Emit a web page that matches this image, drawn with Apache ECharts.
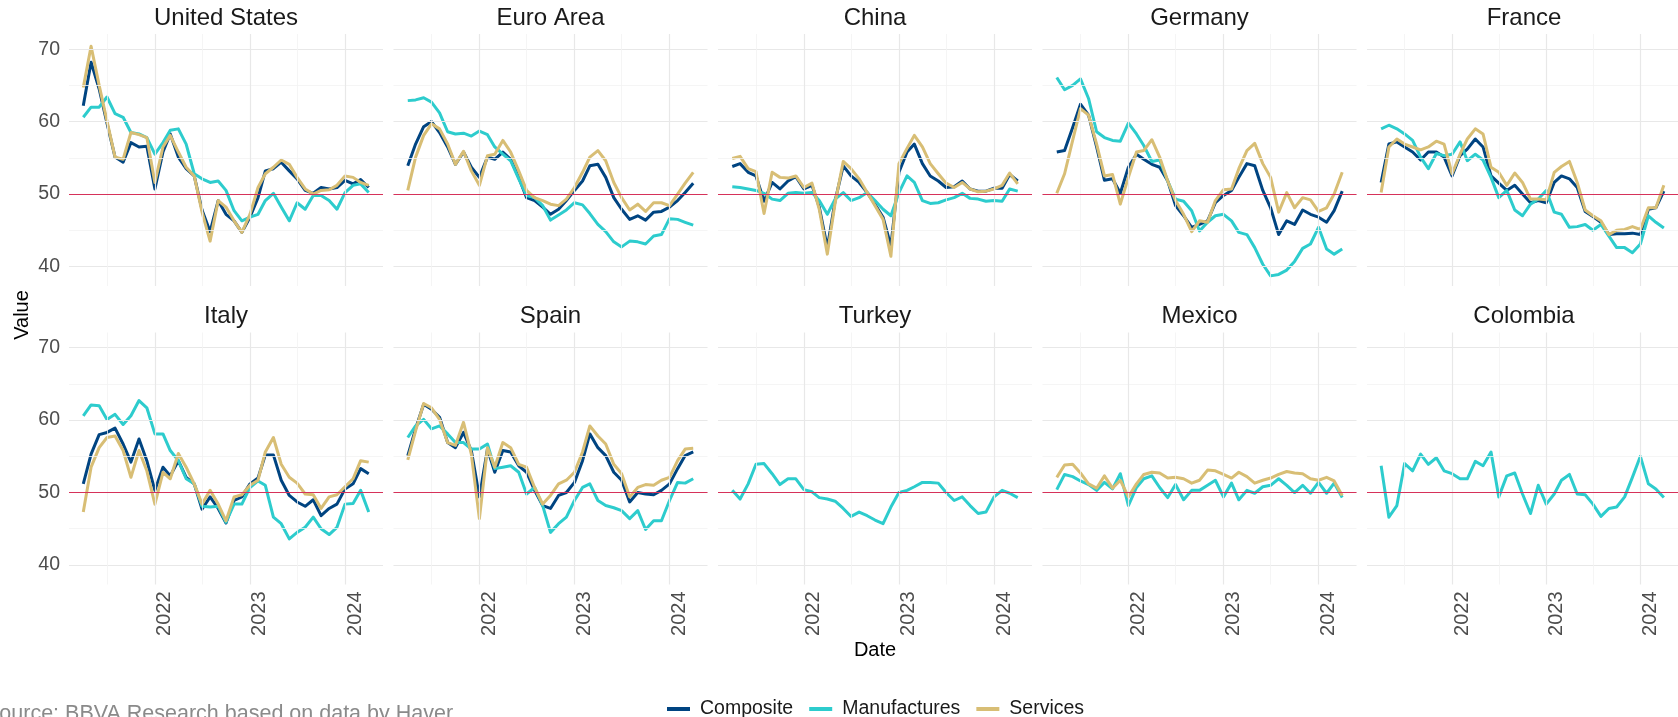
<!DOCTYPE html>
<html>
<head>
<meta charset="utf-8">
<script src="https://cdn.jsdelivr.net/npm/echarts@6/dist/echarts.min.js"></script>
<style>
  html, body { margin: 0; padding: 0; background: #fff; }
  #chart { width: 1678px; height: 717px; }
</style>
</head>
<body>
<div id="chart"></div>
<script>
// monthly observations
const months = [
  '2021-04', '2021-05', '2021-06', '2021-07', '2021-08', '2021-09', '2021-10', '2021-11', '2021-12',
  '2022-01', '2022-02', '2022-03', '2022-04', '2022-05', '2022-06', '2022-07', '2022-08', '2022-09',
  '2022-10', '2022-11', '2022-12', '2023-01', '2023-02', '2023-03', '2023-04', '2023-05', '2023-06',
  '2023-07', '2023-08', '2023-09', '2023-10', '2023-11', '2023-12', '2024-01', '2024-02', '2024-03',
  '2024-04'
]

const countries = ['United States', 'Euro Area', 'China', 'Germany', 'France',
  'Italy', 'Spain', 'Turkey', 'Mexico', 'Colombia']
const seriesNames = ['Composite', 'Manufactures', 'Services']
const seriesColors = ['#004481', '#2DCCCD', '#D8BE75']

const usComposite = [62.2, 68.2, 64.5, 59.8, 55.1, 54.4, 57.1, 56.5, 56.6, 50.7, 55.8, 58.3, 55.1, 53.5, 52.5, 47.8, 44.8, 49.1, 47.2, 46.3, 44.7, 46.8, 49.5, 53.2, 53.5, 54.4, 53.2, 52.1, 50.5, 50.1, 50.9, 50.7, 50.9, 51.9, 51.4, 52.0, 50.9]
const usManuf = [60.6, 62.0, 62.0, 63.4, 61.1, 60.6, 58.5, 58.3, 57.8, 55.5, 57.1, 58.8, 59.0, 56.9, 52.8, 52.1, 51.6, 51.8, 50.5, 47.7, 46.3, 46.8, 47.2, 49.1, 50.1, 48.2, 46.3, 48.8, 47.9, 49.8, 49.8, 49.1, 47.9, 50.2, 51.2, 51.4, 50.2]
const usServices = [64.7, 70.4, 65.0, 60.1, 55.1, 54.8, 58.5, 58.2, 57.8, 51.6, 56.5, 58.1, 55.8, 53.7, 52.5, 47.5, 43.5, 49.1, 48.2, 46.3, 44.7, 47.2, 50.9, 52.8, 53.7, 54.7, 54.1, 52.3, 50.7, 50.0, 50.5, 50.6, 51.2, 52.5, 52.3, 51.6, 51.2]

const euComposite = [53.9, 56.9, 59.3, 60.0, 58.5, 56.5, 54.1, 55.8, 53.7, 52.3, 55.1, 54.8, 55.8, 54.8, 52.3, 49.5, 49.1, 48.2, 47.2, 47.9, 49.1, 50.5, 51.8, 53.9, 54.1, 52.3, 49.5, 47.9, 46.5, 47.0, 46.4, 47.5, 47.6, 48.2, 49.1, 50.2, 51.5]
const euManuf = [62.9, 63.0, 63.3, 62.7, 61.2, 58.6, 58.3, 58.4, 58.0, 58.7, 58.2, 56.5, 55.5, 54.6, 52.1, 49.8, 49.5, 48.4, 46.4, 47.1, 47.8, 48.8, 48.5, 47.3, 45.8, 44.8, 43.4, 42.7, 43.5, 43.4, 43.1, 44.2, 44.4, 46.6, 46.5, 46.1, 45.7]
const euServices = [50.5, 55.1, 58.1, 59.7, 59.0, 56.9, 54.1, 55.9, 53.2, 51.2, 55.3, 55.5, 57.4, 55.8, 53.2, 50.5, 49.5, 49.1, 48.6, 48.4, 49.3, 50.9, 53.0, 55.1, 56.0, 54.6, 51.6, 49.5, 47.8, 48.6, 47.6, 48.8, 48.8, 48.4, 50.0, 51.5, 53.0]

const cnComposite = [53.8, 54.2, 53.0, 52.5, 49.0, 51.6, 50.7, 51.8, 52.4, 50.7, 51.2, 48.2, 42.6, 49.1, 53.9, 52.5, 51.6, 50.2, 48.6, 46.8, 42.8, 53.0, 55.8, 56.9, 54.2, 52.5, 51.8, 50.9, 51.0, 51.8, 50.7, 50.4, 50.4, 50.8, 50.8, 52.7, 51.8]
const cnManuf = [51.0, 50.9, 50.7, 50.5, 50.1, 49.3, 49.1, 50.1, 50.2, 50.1, 50.2, 49.1, 47.2, 49.3, 50.2, 49.1, 49.5, 50.2, 49.1, 47.9, 47.0, 50.2, 52.5, 51.6, 49.1, 48.7, 48.8, 49.2, 49.5, 50.1, 49.4, 49.3, 49.0, 49.1, 49.0, 50.7, 50.4]
const cnServices = [54.9, 55.2, 53.5, 53.1, 47.3, 53.0, 52.3, 52.2, 52.5, 50.9, 51.5, 47.9, 41.7, 48.8, 54.5, 53.5, 52.1, 50.2, 48.4, 46.5, 41.4, 54.2, 56.3, 58.1, 56.5, 54.2, 52.8, 51.5, 50.9, 51.6, 50.7, 50.3, 50.4, 50.7, 51.2, 52.9, 51.4]

const deComposite = [55.8, 56.0, 59.2, 62.4, 60.9, 56.5, 51.9, 52.1, 50.1, 53.7, 55.5, 54.8, 54.1, 53.7, 51.8, 48.4, 47.0, 45.4, 45.8, 46.3, 48.8, 49.8, 50.5, 52.3, 54.2, 53.9, 50.5, 48.1, 44.4, 46.3, 45.8, 47.8, 47.2, 46.8, 46.1, 47.7, 50.4]
const deManuf = [66.1, 64.4, 65.0, 65.9, 63.2, 58.6, 57.8, 57.4, 57.3, 59.8, 58.3, 56.7, 54.5, 54.7, 51.8, 49.3, 49.0, 47.7, 44.9, 46.1, 47.0, 47.2, 46.3, 44.7, 44.4, 42.6, 40.3, 38.7, 38.9, 39.5, 40.7, 42.5, 43.1, 45.4, 42.4, 41.7, 42.4]
const deServices = [50.1, 52.8, 57.4, 61.8, 60.9, 56.9, 52.5, 52.7, 48.6, 52.3, 55.8, 56.0, 57.5, 55.1, 51.8, 49.1, 47.2, 44.8, 46.3, 46.1, 49.1, 50.6, 50.7, 53.5, 56.0, 57.0, 54.2, 52.3, 47.5, 50.2, 48.1, 49.5, 49.2, 47.6, 48.1, 50.0, 53.0]

const frComposite = [51.6, 56.9, 57.2, 56.5, 55.8, 54.7, 55.8, 55.8, 55.1, 52.5, 55.3, 56.2, 57.6, 56.5, 52.5, 51.5, 50.5, 51.2, 50.0, 48.8, 49.1, 48.8, 51.6, 52.5, 52.1, 50.9, 47.6, 46.9, 46.1, 44.4, 44.5, 44.5, 44.6, 44.4, 47.9, 48.1, 50.4]
const frManuf = [59.0, 59.5, 59.0, 58.3, 57.4, 55.1, 53.5, 55.6, 55.3, 55.5, 57.2, 54.6, 55.5, 54.7, 52.3, 49.5, 50.5, 47.8, 47.0, 48.6, 49.3, 50.5, 47.5, 47.2, 45.4, 45.5, 45.8, 45.0, 45.8, 44.2, 42.6, 42.6, 41.9, 43.1, 47.0, 46.1, 45.3]
const frServices = [50.2, 56.5, 57.6, 56.9, 56.5, 56.1, 56.5, 57.3, 56.9, 52.8, 55.5, 57.6, 59.0, 58.3, 53.7, 53.0, 51.2, 52.9, 51.6, 49.3, 49.3, 49.2, 53.0, 53.8, 54.5, 51.6, 47.8, 47.0, 46.3, 44.4, 45.0, 45.1, 45.5, 45.1, 48.1, 48.1, 51.2]

const itComposite = [51.2, 55.3, 58.0, 58.3, 58.9, 56.7, 54.2, 57.4, 54.4, 50.3, 53.5, 52.3, 54.4, 52.1, 51.2, 47.7, 49.4, 47.8, 45.8, 48.9, 49.4, 51.2, 52.0, 55.2, 55.2, 51.7, 49.6, 48.7, 48.1, 49.0, 46.8, 47.8, 48.4, 50.5, 51.2, 53.3, 52.6]
const itManuf = [60.6, 62.1, 62.0, 60.1, 60.8, 59.4, 60.6, 62.7, 61.7, 58.1, 58.1, 55.8, 54.4, 51.9, 51.2, 48.1, 48.0, 48.1, 45.9, 48.4, 48.4, 50.7, 51.6, 51.0, 46.6, 45.7, 43.6, 44.5, 45.2, 46.6, 45.0, 44.2, 45.2, 48.4, 48.5, 50.3, 47.3]
const itServices = [47.3, 53.5, 56.2, 57.6, 57.8, 55.8, 52.1, 55.8, 53.0, 48.4, 52.8, 51.9, 55.4, 53.5, 51.2, 48.4, 50.3, 48.4, 46.1, 49.4, 49.7, 51.0, 51.7, 55.6, 57.6, 53.9, 52.1, 51.3, 49.8, 49.7, 47.8, 49.4, 49.7, 50.8, 51.9, 54.4, 54.2]

const esComposite = [55.1, 58.8, 62.2, 61.5, 60.4, 56.9, 56.2, 58.3, 55.8, 49.4, 56.0, 52.8, 55.8, 55.6, 53.7, 52.8, 50.3, 48.2, 47.8, 49.6, 50.0, 51.4, 54.4, 58.1, 56.2, 55.1, 52.8, 51.7, 48.7, 50.0, 49.8, 49.7, 50.3, 51.2, 53.3, 55.1, 55.6]
const esManuf = [57.6, 59.2, 60.1, 58.8, 59.2, 58.1, 56.9, 56.9, 56.0, 56.0, 56.7, 53.3, 53.5, 53.7, 52.8, 49.8, 50.7, 48.2, 44.5, 45.7, 46.6, 48.9, 50.7, 51.2, 48.9, 48.2, 47.9, 47.5, 46.4, 47.5, 44.9, 46.1, 46.1, 48.9, 51.4, 51.3, 51.9]
const esServices = [54.5, 58.5, 62.3, 61.7, 60.1, 56.9, 56.5, 59.7, 55.3, 46.4, 56.2, 53.5, 56.9, 56.2, 53.9, 53.5, 50.7, 48.4, 49.6, 51.2, 51.7, 52.8, 55.6, 59.2, 57.8, 56.7, 53.9, 52.6, 49.4, 50.7, 51.1, 51.0, 51.7, 52.1, 54.4, 56.0, 56.1]

const trManuf = [50.3, 49.1, 51.2, 53.9, 54.0, 52.6, 51.1, 51.9, 51.9, 50.4, 50.1, 49.3, 49.1, 48.8, 47.8, 46.7, 47.3, 46.8, 46.2, 45.7, 48.0, 50.0, 50.3, 50.8, 51.4, 51.4, 51.3, 50.0, 48.9, 49.4, 48.2, 47.1, 47.3, 49.4, 50.3, 49.9, 49.3]

const mxManuf = [50.4, 52.5, 52.2, 51.6, 51.1, 50.3, 51.4, 50.5, 52.6, 48.2, 50.7, 51.9, 52.3, 50.7, 49.3, 51.1, 49.0, 50.3, 50.3, 51.0, 51.7, 49.4, 51.3, 49.0, 50.3, 49.9, 50.8, 51.0, 51.9, 51.0, 50.0, 51.0, 49.9, 51.4, 49.9, 51.3, 49.3]
const mxServices = [52.1, 53.8, 53.9, 52.7, 51.2, 50.6, 52.3, 50.6, 51.7, 49.4, 51.2, 52.5, 52.8, 52.7, 52.0, 52.1, 51.9, 51.3, 51.7, 53.1, 53.0, 52.5, 52.0, 52.8, 52.2, 51.3, 51.7, 52.0, 52.5, 52.9, 52.7, 52.6, 51.9, 51.7, 52.1, 51.6, 49.6]

const coManuf = [53.7, 46.6, 48.2, 54.0, 53.0, 55.3, 53.9, 54.8, 53.0, 52.6, 51.9, 51.9, 54.3, 53.7, 55.6, 49.4, 52.3, 52.7, 49.8, 47.1, 51.0, 48.4, 49.8, 51.7, 52.5, 49.8, 49.7, 48.4, 46.7, 47.8, 48.0, 49.4, 52.1, 55.0, 51.2, 50.5, 49.3]

// one row per facet: [Composite, Manufactures, Services]
const panels = [
  [usComposite, usManuf, usServices],
  [euComposite, euManuf, euServices],
  [cnComposite, cnManuf, cnServices],
  [deComposite, deManuf, deServices],
  [frComposite, frManuf, frServices],
  [itComposite, itManuf, itServices],
  [esComposite, esManuf, esServices],
  [null, trManuf, null],
  [null, mxManuf, mxServices],
  [null, coManuf, null],
]

// axis breaks
const yLabels = [40, 50, 60, 70]
const yMinor = [45, 55, 65]
const xLabels = ['2022-01', '2023-01', '2024-01']
const xMinor = ['2021-07', '2022-07', '2023-07']
const threshold = 50

const FONT = 'Liberation Sans, Arial, sans-serif'

function toTime(s) {
  const [y, m] = s.split('-').map(Number)
  return new Date(y, m - 1, 1).getTime()
}

const t0 = toTime(months[0])
const t1 = toTime(months[months.length - 1])
const tPad = (t1 - t0) * 0.05
const yMin = 37.3
const yMax = 72.1

const colStep = 324.5
const rowStep = 298.5
const panelW = 314
const panelH = 252

const grids = []
const xAxes = []
const yAxes = []
const titles = []
const series = []

countries.forEach((name, i) => {
  const col = i % 5
  const row = Math.floor(i / 5)
  const left = 69 + col * colStep
  const top = 34 + row * rowStep
  grids.push({ left: left, top: top, width: panelW, height: panelH })

  // dates kept as numbers so the labels can sit exactly on Jan 1
  xAxes.push({
    type: 'value',
    gridIndex: i,
    min: t0 - tPad,
    max: t1 + tPad,
    axisLine: { show: false },
    axisTick: { show: false },
    splitLine: { show: false },
    axisLabel: {
      show: row === 1,
      customValues: xLabels.map(toTime),
      rotate: 90,
      margin: 7,
      verticalAlign: 'top',
      fontSize: 20,
      fontFamily: FONT,
      color: '#4d4d4d',
      formatter: v => String(new Date(v).getFullYear()),
    },
  })

  yAxes.push({
    type: 'value',
    gridIndex: i,
    min: yMin,
    max: yMax,
    axisLine: { show: false },
    axisTick: { show: false },
    splitLine: { show: false },
    axisLabel: {
      show: col === 0,
      customValues: yLabels,
      margin: 9,
      fontSize: 19.5,
      fontFamily: FONT,
      color: '#4d4d4d',
    },
  })

  titles.push({
    text: name,
    left: left + panelW / 2,
    top: 6 + row * rowStep,
    textAlign: 'center',
    padding: 0,
    textStyle: { fontSize: 24, fontWeight: 'normal', color: '#1a1a1a', fontFamily: FONT },
  })

  // grid lines behind the data
  const major = { color: '#e8e8e8', width: 1.2, type: 'solid' }
  const minor = { color: '#f2f2f2', width: 0.8, type: 'solid' }
  series.push({
    type: 'line',
    xAxisIndex: i,
    yAxisIndex: i,
    data: [],
    silent: true,
    z: 1,
    markLine: {
      silent: true,
      symbol: 'none',
      label: { show: false },
      animation: false,
      data: [
        ...yLabels.map(v => ({ yAxis: v, lineStyle: major })),
        ...yMinor.map(v => ({ yAxis: v, lineStyle: minor })),
        ...xLabels.map(v => ({ xAxis: toTime(v), lineStyle: major })),
        ...xMinor.map(v => ({ xAxis: toTime(v), lineStyle: minor })),
      ],
    },
  })

  panels[i].forEach((vals, s) => {
    if (!vals) return
    series.push({
      name: seriesNames[s],
      type: 'line',
      xAxisIndex: i,
      yAxisIndex: i,
      data: months.map((m, k) => [toTime(m), vals[k]]),
      showSymbol: false,
      symbol: 'none',
      color: seriesColors[s],
      lineStyle: { width: 3, color: seriesColors[s], join: 'round' },
      z: 2,
    })
  })

  // reference line at 50
  series.push({
    type: 'line',
    xAxisIndex: i,
    yAxisIndex: i,
    data: [],
    silent: true,
    z: 3,
    markLine: {
      silent: true,
      symbol: 'none',
      label: { show: false },
      animation: false,
      data: [{ yAxis: threshold, lineStyle: { color: '#d6325a', width: 1.2, type: 'solid' } }],
    },
  })
})

const chart = echarts.init(document.getElementById('chart'))
chart.setOption({
  animation: false,
  backgroundColor: '#ffffff',
  title: titles,
  grid: grids,
  xAxis: xAxes,
  yAxis: yAxes,
  legend: {
    data: seriesNames,
    left: 667,
    top: 699,
    icon: 'rect',
    itemWidth: 23,
    itemHeight: 4,
    itemGap: 16,
    padding: 0,
    textStyle: { fontSize: 19.5, color: '#1a1a1a', fontFamily: FONT, padding: [0, 0, 0, 5] },
  },
  graphic: [
    {
      type: 'text',
      x: 22,
      y: 315,
      rotation: Math.PI / 2,
      style: { text: 'Value', fontSize: 20, fontFamily: FONT, fill: '#000', align: 'center', verticalAlign: 'middle' },
    },
    {
      type: 'text',
      x: 875,
      y: 650,
      style: { text: 'Date', fontSize: 20, fontFamily: FONT, fill: '#000', align: 'center', verticalAlign: 'middle' },
    },
    {
      type: 'text',
      x: -15,
      y: 703,
      style: { text: 'Source: BBVA Research based on data by Haver', fontSize: 21.5, fontFamily: FONT, fill: '#8a8a8a', align: 'left', verticalAlign: 'top' },
    },
  ],
  series: series,
})
</script>
</body>
</html>
